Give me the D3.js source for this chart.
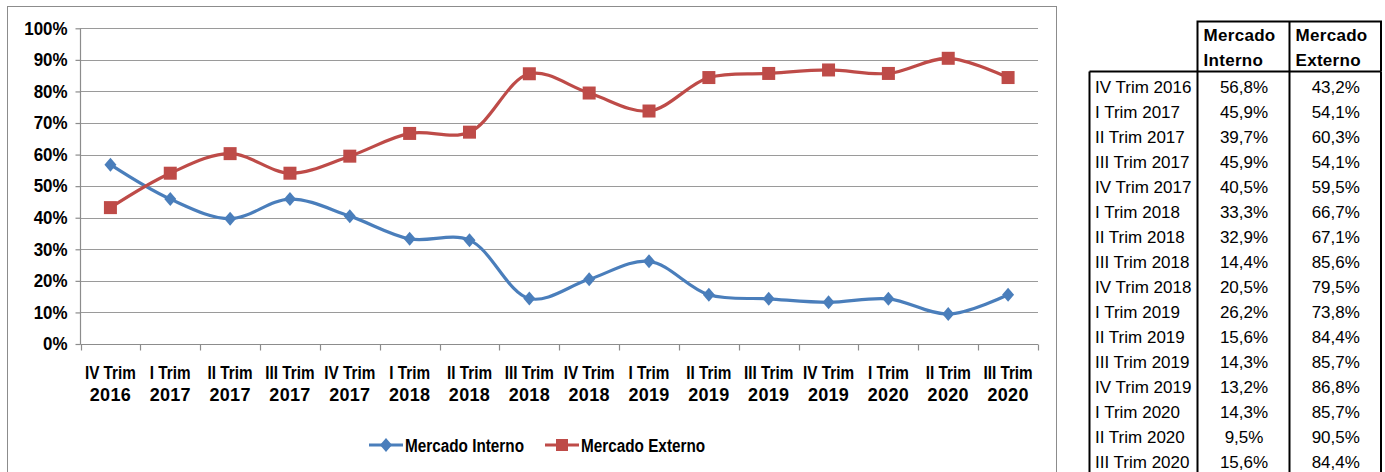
<!DOCTYPE html>
<html><head><meta charset="utf-8">
<script src="https://cdn.jsdelivr.net/npm/d3@7"></script>
<style>
html,body{margin:0;padding:0;background:#fff;}
svg{display:block;}
</style></head>
<body>
<svg id="c" width="1385" height="472"></svg>
<script>
const quarters = ["IV Trim","I Trim","II Trim","III Trim","IV Trim","I Trim","II Trim","III Trim","IV Trim","I Trim","II Trim","III Trim","IV Trim","I Trim","II Trim","III Trim"];
const years = ["2016","2017","2017","2017","2017","2018","2018","2018","2018","2019","2019","2019","2019","2020","2020","2020"];
const interno = [56.8,45.9,39.7,45.9,40.5,33.3,32.9,14.4,20.5,26.2,15.6,14.3,13.2,14.3,9.5,15.6];
const externo = [43.2,54.1,60.3,54.1,59.5,66.7,67.1,85.6,79.5,73.8,84.4,85.7,86.8,85.7,90.5,84.4];
const yTicks = [0,10,20,30,40,50,60,70,80,90,100];
const seriesNames = ["Mercado Interno","Mercado Externo"];
const headerLines = [["Mercado","Interno"],["Mercado","Externo"]];

const svg = d3.select("#c");
const blue = "#4A7EBB", red = "#BE4B48";
const font = "'Liberation Sans', Arial, sans-serif";

// condense text glyphs horizontally
function condense(sel, f){
  sel.each(function(){
    const w = this.getComputedTextLength();
    d3.select(this).attr("textLength", w*f).attr("lengthAdjust","spacingAndGlyphs");
  });
}

// chart border
svg.append("rect").attr("x",7.5).attr("y",6.5).attr("width",1049).attr("height",480)
  .attr("fill","none").attr("stroke","#8c8c8c").attr("stroke-width",1);

const labels = quarters.map((q,i)=>q+" "+years[i]);
const x = d3.scaleBand().domain(labels).range([80.5,1038]);
const y = d3.scaleLinear().domain([0,100]).range([344,28.3]);

// gridlines
svg.append("g").selectAll("line").data(yTicks.filter(d=>d>0)).join("line")
  .attr("x1",80.5).attr("x2",1038).attr("y1",d=>Math.round(y(d))+0.5).attr("y2",d=>Math.round(y(d))+0.5)
  .attr("stroke","#9a9a9a").attr("stroke-width",1.2);

// y axis
const ya = svg.append("g").attr("transform","translate(80.5,0)")
  .call(d3.axisLeft(y).tickValues(yTicks).tickFormat(d=>d+"%").tickSize(5).tickPadding(8));
ya.select(".domain").attr("stroke","#8c8c8c").attr("stroke-width",1.2).attr("d","M0,28.3V344.5");
ya.selectAll(".tick line").attr("stroke","#8c8c8c").attr("stroke-width",1.2);
ya.selectAll(".tick text").attr("font-family",font).attr("font-weight","bold").attr("font-size",18).attr("fill","#000");
condense(ya.selectAll(".tick text"),0.94);

// x axis
const xa = svg.append("g").attr("transform","translate(0,344.5)");
xa.append("line").attr("x1",80.5).attr("x2",1038).attr("y1",0).attr("y2",0).attr("stroke","#8c8c8c").attr("stroke-width",1.2);
const bounds = labels.map(l=>x(l)).concat([x.range()[1]]);
xa.selectAll("line.t").data(bounds).join("line").attr("class","t")
  .attr("x1",d=>Math.round(d)+0.5).attr("x2",d=>Math.round(d)+0.5).attr("y1",0).attr("y2",6)
  .attr("stroke","#8c8c8c").attr("stroke-width",1.2);
const qt = xa.selectAll("text.q").data(labels).join("text").attr("class","q")
  .attr("x",d=>x(d)+x.bandwidth()/2).attr("y",34.5).attr("text-anchor","middle")
  .attr("font-family",font).attr("font-weight","bold").attr("font-size",18).attr("fill","#000")
  .text((d,i)=>quarters[i]);
condense(qt,0.85);
xa.selectAll("text.yr").data(labels).join("text").attr("class","yr")
  .attr("x",d=>x(d)+x.bandwidth()/2).attr("y",56.5).attr("text-anchor","middle")
  .attr("font-family",font).attr("font-weight","bold").attr("font-size",18).attr("fill","#000")
  .attr("letter-spacing","0.3").text((d,i)=>years[i]);

const cx = i => x(labels[i]) + x.bandwidth()/2;
const line = d3.line().x((d,i)=>cx(i)).y(d=>y(d)).curve(d3.curveCatmullRom.alpha(0.5));

function diamond(g,cx0,cy0,color){
  g.append("path").attr("d",`M${cx0},${cy0-7}L${cx0+6},${cy0}L${cx0},${cy0+7}L${cx0-6},${cy0}Z`).attr("fill",color);
}
// interno
svg.append("path").attr("d",line(interno)).attr("fill","none").attr("stroke",blue).attr("stroke-width",3.2);
const gi = svg.append("g");
interno.forEach((v,i)=>diamond(gi,cx(i),y(v),blue));
// externo
svg.append("path").attr("d",line(externo)).attr("fill","none").attr("stroke",red).attr("stroke-width",3.2);
const ge = svg.append("g");
externo.forEach((v,i)=>ge.append("rect").attr("x",cx(i)-6.5).attr("y",y(v)-6.5).attr("width",13).attr("height",13).attr("fill",red));

// legend
const lg = svg.append("g").attr("font-family",font).attr("font-weight","bold").attr("font-size",18);
lg.append("line").attr("x1",369).attr("x2",403).attr("y1",445).attr("y2",445).attr("stroke",blue).attr("stroke-width",3.2);
diamond(lg,386,445,blue);
lg.append("text").attr("x",405).attr("y",451.5).text(seriesNames[0]);
lg.append("line").attr("x1",545).attr("x2",579).attr("y1",445).attr("y2",445).attr("stroke",red).attr("stroke-width",3.2);
lg.append("rect").attr("x",556).attr("y",439).attr("width",12).attr("height",12).attr("fill",red);
lg.append("text").attr("x",581).attr("y",451.5).text(seriesNames[1]);
condense(lg.selectAll("text"),0.85);

// table
const tf = "'Liberation Sans', Arial, sans-serif";
const colX = [1089.5,1197.5,1289.5,1381];
const hTop = 21.5, hBot = 71.5, rowH = 25;
const t = svg.append("g");
t.append("path").attr("d",`M${colX[1]},${hBot}V${hTop}H${colX[3]}V${hBot}M${colX[2]},${hTop}V${hBot}`)
  .attr("fill","none").attr("stroke","#000").attr("stroke-width",2);
t.append("path").attr("d",`M${colX[0]},${hBot}H${colX[3]}M${colX[0]},${hBot}V${hBot+rowH*16+5}M${colX[1]},${hBot}V${hBot+rowH*16+5}M${colX[2]},${hBot}V${hBot+rowH*16+5}M${colX[3]},${hBot}V${hBot+rowH*16+5}`)
  .attr("fill","none").attr("stroke","#000").attr("stroke-width",2);
[0,1].forEach(c=>{
  headerLines[c].forEach((s,k)=>{
    t.append("text").attr("x",colX[c+1]+6).attr("y",40.5+k*25).text(s)
      .attr("font-family",tf).attr("font-weight","bold").attr("font-size",17).attr("fill","#000").attr("letter-spacing","0.3");
  });
});
const fmt = v => v.toFixed(1).replace(".",",")+"%";
labels.forEach((l,i)=>{
  const ty = hBot + rowH*i + 21;
  t.append("text").attr("x",colX[0]+5.5).attr("y",ty).text(l)
    .attr("font-family",tf).attr("font-size",17).attr("fill","#000");
  t.append("text").attr("x",(colX[1]+colX[2])/2+0.5).attr("y",ty).attr("text-anchor","middle").text(fmt(interno[i]))
    .attr("font-family",tf).attr("font-size",17).attr("fill","#000");
  t.append("text").attr("x",(colX[2]+colX[3])/2+0.5).attr("y",ty).attr("text-anchor","middle").text(fmt(externo[i]))
    .attr("font-family",tf).attr("font-size",17).attr("fill","#000");
});
</script>
</body></html>
